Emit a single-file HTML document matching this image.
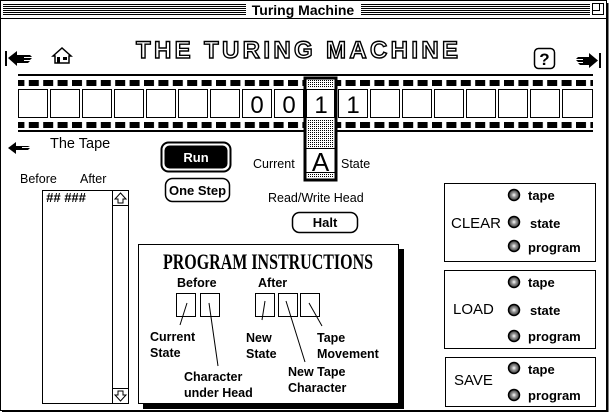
<!DOCTYPE html>
<html><head><meta charset="utf-8"><style>
html,body{margin:0;padding:0;background:#fff;}
svg{display:block;}
text{font-family:"Liberation Sans",sans-serif;fill:#000;}
.b{font-weight:bold;}
</style></head><body>
<svg width="611" height="412" viewBox="0 0 611 412" xmlns="http://www.w3.org/2000/svg">
<defs>
<pattern id="st" width="2" height="2" patternUnits="userSpaceOnUse"><rect width="2" height="2" fill="#fff"/><rect width="1" height="1" fill="#000"/></pattern>
<pattern id="sp" width="14.4" height="6" patternUnits="userSpaceOnUse"><rect width="10" height="6" fill="#000"/></pattern>
<radialGradient id="rg"><stop offset="0" stop-color="#fff"/><stop offset="0.4" stop-color="#999"/><stop offset="0.8" stop-color="#555"/><stop offset="1" stop-color="#000"/></radialGradient>
</defs>
<rect x="0.5" y="0.5" width="606" height="410" fill="#fff" stroke="#000"/>
<line x1="607.5" y1="3" x2="607.5" y2="412" stroke="#000" stroke-width="2"/>
<line x1="2" y1="411.5" x2="608" y2="411.5" stroke="#000"/>
<rect x="1" y="1" width="605" height="17" fill="#fff"/>
<g stroke="#000" stroke-width="1">
<path d="M3 4.5H246M3 6.5H246M3 8.5H246M3 10.5H246M3 12.5H246M3 14.5H246M361 4.5H590M361 6.5H590M361 8.5H590M361 10.5H590M361 12.5H590M361 14.5H590"/>
</g>
<rect x="592.5" y="3.5" width="11" height="11" fill="#fff" stroke="#000"/>
<rect x="592.5" y="3.5" width="7" height="7" fill="none" stroke="#000"/>
<text x="303" y="15" text-anchor="middle" font-size="14" class="b">Turing Machine</text>
<line x1="0" y1="18.5" x2="607" y2="18.5" stroke="#000"/>

<text x="297" y="58" text-anchor="middle" font-size="24" class="b" stroke="#000" stroke-width="1.4" textLength="322" lengthAdjust="spacing" style="fill:#fff">THE TURING MACHINE</text>
<path d="M6 51V66" stroke="#000" stroke-width="2"/>
<path d="M8 58L17 51V55H30L32 57H24V58H32L30 60H24V61H30L28 63H17V66Z" fill="#000"/>
<path d="M53 56L62 48L71 56H69V63H55V56Z" fill="#fff" stroke="#000" stroke-width="1.5"/>
<rect x="57" y="57" width="3" height="6" fill="#000"/><rect x="63" y="57" width="4" height="3" fill="#000"/>
<rect x="534.5" y="48.5" width="20" height="20" rx="4" fill="#fff" stroke="#000" stroke-width="1.5"/>
<text x="544.5" y="65" text-anchor="middle" font-size="17" class="b">?</text>
<path d="M600 53V68" stroke="#000" stroke-width="2"/>
<path d="M598 60.5L589 53V57H578L576 59H583V60H576L578 62H583V63H578L580 65H589V68Z" fill="#000"/>

<rect x="18" y="74" width="575" height="2" fill="#000"/>
<rect x="18" y="80" width="575" height="6" fill="url(#sp)"/>
<rect x="18" y="122" width="575" height="6" fill="url(#sp)"/>
<rect x="18" y="130" width="575" height="2" fill="#000"/>
<g fill="#fff" stroke="#000">
<rect x="18.5" y="89.5" width="29" height="28"/><rect x="50.5" y="89.5" width="29" height="28"/><rect x="82.5" y="89.5" width="29" height="28"/><rect x="114.5" y="89.5" width="29" height="28"/><rect x="146.5" y="89.5" width="29" height="28"/><rect x="178.5" y="89.5" width="29" height="28"/><rect x="210.5" y="89.5" width="29" height="28"/><rect x="242.5" y="89.5" width="29" height="28"/><rect x="274.5" y="89.5" width="29" height="28"/><rect x="338.5" y="89.5" width="29" height="28"/><rect x="370.5" y="89.5" width="29" height="28"/><rect x="402.5" y="89.5" width="29" height="28"/><rect x="434.5" y="89.5" width="29" height="28"/><rect x="466.5" y="89.5" width="29" height="28"/><rect x="498.5" y="89.5" width="29" height="28"/><rect x="530.5" y="89.5" width="29" height="28"/><rect x="562.5" y="89.5" width="30" height="28"/>
</g>
<rect x="305" y="78" width="31" height="102" fill="#fff" stroke="#000" stroke-width="3"/>
<rect x="307" y="80" width="27" height="8" fill="url(#st)"/>
<rect x="306.5" y="89.5" width="28" height="28" fill="#fff" stroke="#000"/>
<rect x="307" y="119" width="27" height="29" fill="url(#st)"/>
<rect x="307" y="173" width="27" height="5" fill="url(#st)"/>
<line x1="306" y1="148.5" x2="335" y2="148.5" stroke="#000"/>
<line x1="306" y1="172.5" x2="335" y2="172.5" stroke="#000"/>
<g font-size="24" text-anchor="middle">
<text x="257" y="113">0</text><text x="289" y="113">0</text><text x="321" y="113">1</text><text x="353" y="113">1</text>
</g>
<text x="320.5" y="171" text-anchor="middle" font-size="26">A</text>
<text x="253" y="168" font-size="12.5">Current</text>
<text x="341" y="168" font-size="12.5">State</text>
<text x="268" y="202" font-size="12.5">Read/Write Head</text>

<path d="M8 148L16 142V146H28L30 147H22V148H30L28 150H16V154Z" fill="#000"/>
<text x="50" y="148" font-size="14.5">The Tape</text>
<text x="20" y="183" font-size="12.5">Before</text>
<text x="80" y="183" font-size="12.5">After</text>
<rect x="42.5" y="190.5" width="86" height="213" fill="#fff" stroke="#000"/>
<line x1="112.5" y1="190" x2="112.5" y2="403" stroke="#000"/>
<line x1="112" y1="205.5" x2="128" y2="205.5" stroke="#000"/>
<line x1="112" y1="388.5" x2="128" y2="388.5" stroke="#000"/>
<path d="M120.5 193L126 199H123V203H118V199H115Z" fill="#fff" stroke="#000"/>
<path d="M120.5 401L126 395H123V391H118V395H115Z" fill="#fff" stroke="#000"/>
<text x="46" y="202" font-size="13" class="b" font-style="italic">## ###</text>

<rect x="161.5" y="142.5" width="69" height="29" rx="7" fill="#fff" stroke="#000" stroke-width="2"/>
<rect x="164.5" y="145.5" width="63" height="23" rx="5" fill="#000"/>
<text x="196" y="162" text-anchor="middle" font-size="13" class="b" style="fill:#fff">Run</text>
<rect x="165.5" y="178.5" width="64" height="23" rx="7" fill="#fff" stroke="#000" stroke-width="1.5"/>
<text x="197.5" y="195" text-anchor="middle" font-size="13" class="b">One Step</text>
<rect x="292.5" y="212.5" width="65" height="20" rx="7" fill="#fff" stroke="#000" stroke-width="1.5"/>
<text x="325" y="227" text-anchor="middle" font-size="13" class="b">Halt</text>

<rect x="143" y="249" width="261" height="160" fill="#000"/>
<rect x="138.5" y="244.5" width="260" height="159" fill="#fff" stroke="#000"/>
<text x="268" y="269" text-anchor="middle" font-size="22" class="b" textLength="210" lengthAdjust="spacingAndGlyphs" style="font-family:'Liberation Serif',serif">PROGRAM INSTRUCTIONS</text>
<text x="177" y="287" font-size="12.5" class="b">Before</text>
<text x="258" y="287" font-size="12.5" class="b">After</text>
<g fill="none" stroke="#000">
<rect x="176.5" y="293.5" width="19" height="23"/><rect x="200.5" y="293.5" width="19" height="23"/>
<rect x="255.5" y="293.5" width="19" height="23"/><rect x="278.5" y="293.5" width="19" height="23"/><rect x="300.5" y="293.5" width="19" height="23"/>
<path d="M187 303L180 325M209 303L218 366M265 301L262 320M286 301L305 362M309 303L322 326"/>
</g>
<g font-size="12.5" class="b">
<text x="150" y="341">Current</text><text x="150" y="357">State</text>
<text x="184" y="381">Character</text><text x="184" y="397">under Head</text>
<text x="246" y="342">New</text><text x="246" y="358">State</text>
<text x="288" y="376">New Tape</text><text x="288" y="392">Character</text>
<text x="317" y="342">Tape</text><text x="317" y="358">Movement</text>
</g>

<g fill="#fff" stroke="#000">
<rect x="444.5" y="183.5" width="151" height="78"/>
<rect x="444.5" y="270.5" width="151" height="78"/>
<rect x="445.5" y="357.5" width="150" height="49"/>
</g>
<g fill="url(#rg)" stroke="#000" stroke-width="1.5">
<circle cx="514" cy="195" r="5.5"/><circle cx="514" cy="222" r="5.5"/><circle cx="514" cy="246" r="5.5"/>
<circle cx="514" cy="282" r="5.5"/><circle cx="514" cy="310" r="5.5"/><circle cx="514" cy="336" r="5.5"/>
<circle cx="514" cy="368" r="5.5"/><circle cx="514" cy="395" r="5.5"/>
</g>
<g font-size="13" class="b">
<text x="528" y="200">tape</text><text x="530" y="228">state</text><text x="528" y="252">program</text>
<text x="528" y="287">tape</text><text x="530" y="315">state</text><text x="528" y="341">program</text>
<text x="528" y="374">tape</text><text x="528" y="400">program</text>
</g>
<g font-size="15">
<text x="451" y="228">CLEAR</text>
<text x="453" y="314">LOAD</text>
<text x="454" y="385">SAVE</text>
</g>
</svg>
</body></html>
